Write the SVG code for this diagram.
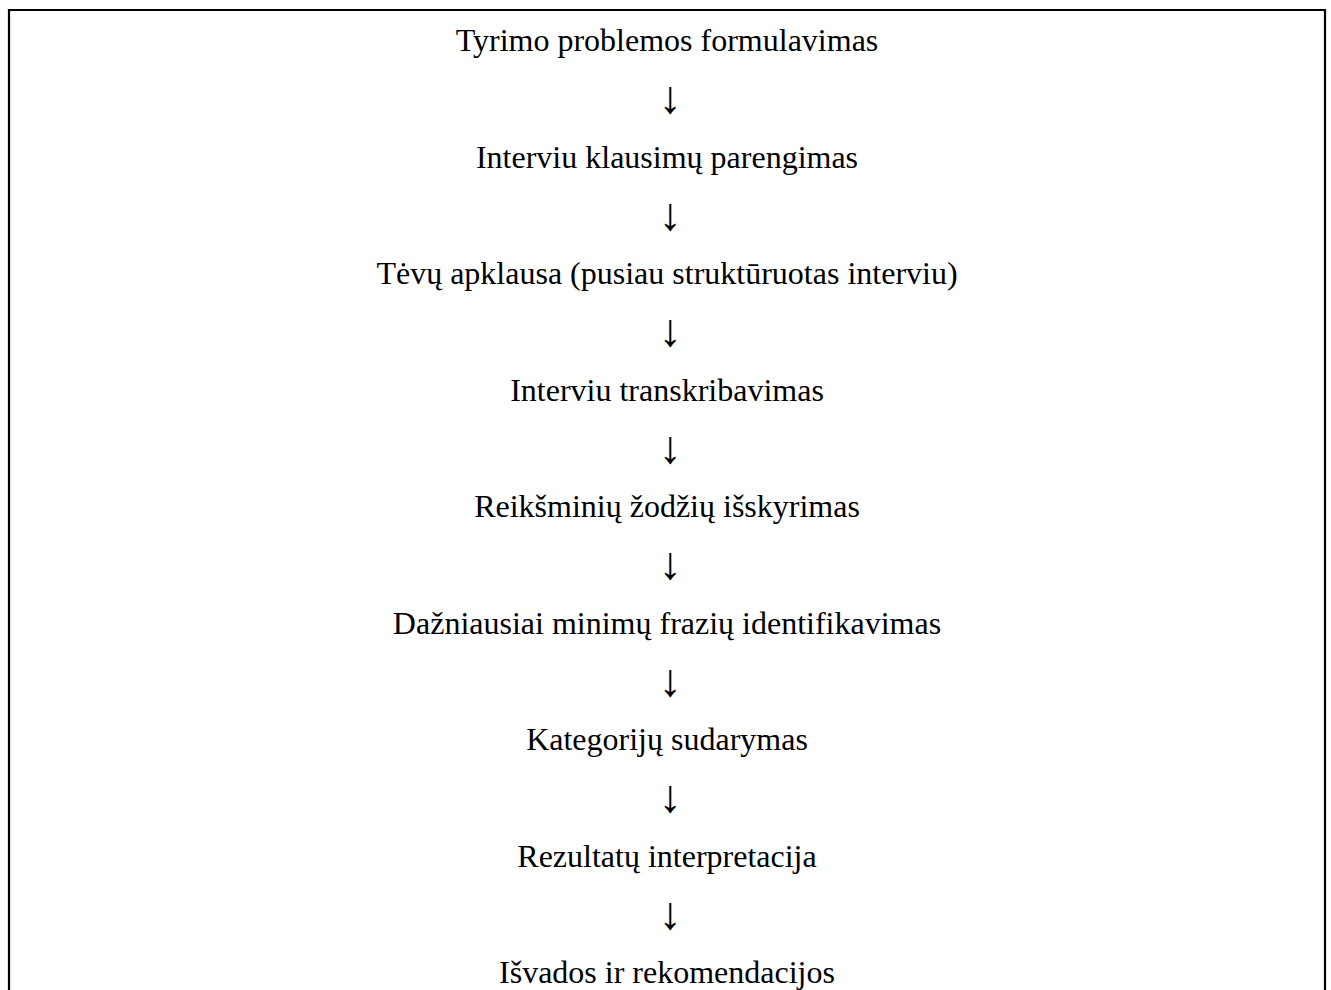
<svg xmlns="http://www.w3.org/2000/svg" width="1331" height="990" viewBox="0 0 1331 990">
<style>
.frame{fill:none;stroke:#000;stroke-width:2.2}
.t{font-family:"Liberation Serif","Times New Roman",serif;font-size:32px;fill:#000;text-anchor:middle}
.a{font-family:"Liberation Serif","Times New Roman",serif;font-size:46px;fill:#000;text-anchor:middle}
</style>
<rect x="0" y="0" width="1331" height="990" fill="#fff"/>
<path class="frame" d="M9,1000 V10 H1325 V1000"/>
<g id="n1"><text class="t" x="667" y="51">Tyrimo problemos formulavimas</text></g>
<g id="n2"><text class="t" x="667" y="167.5">Interviu klausimų parengimas</text></g>
<g id="n3"><text class="t" x="667" y="284">Tėvų apklausa (pusiau struktūruotas interviu)</text></g>
<g id="n4"><text class="t" x="667" y="400.5">Interviu transkribavimas</text></g>
<g id="n5"><text class="t" x="667" y="517">Reikšminių žodžių išskyrimas</text></g>
<g id="n6"><text class="t" x="667" y="633.5">Dažniausiai minimų frazių identifikavimas</text></g>
<g id="n7"><text class="t" x="667" y="750">Kategorijų sudarymas</text></g>
<g id="n8"><text class="t" x="667" y="866.5">Rezultatų interpretacija</text></g>
<g id="n9"><text class="t" x="667" y="983">Išvados ir rekomendacijos</text></g>
<g id="connectors">
<text class="a" x="670" y="113">↓</text>
<text class="a" x="670" y="229.5">↓</text>
<text class="a" x="670" y="346">↓</text>
<text class="a" x="670" y="462.5">↓</text>
<text class="a" x="670" y="579">↓</text>
<text class="a" x="670" y="695.5">↓</text>
<text class="a" x="670" y="812">↓</text>
<text class="a" x="670" y="928.5">↓</text>
</g>
</svg>
